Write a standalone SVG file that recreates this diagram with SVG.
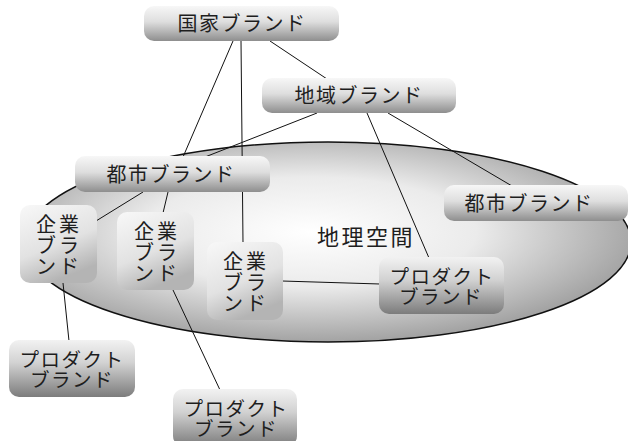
<svg xmlns="http://www.w3.org/2000/svg" width="628" height="441" viewBox="0 0 628 441">
<defs>
<radialGradient id="gSpace" cx="0.47" cy="0.45" r="0.55">
<stop offset="0" stop-color="#ffffff"/>
<stop offset="0.5" stop-color="#ebebeb"/>
<stop offset="1" stop-color="#a3a3a3"/>
</radialGradient>
<linearGradient id="gBar" x1="0" y1="0" x2="0" y2="1">
<stop offset="0" stop-color="#f7f7f7"/>
<stop offset="0.45" stop-color="#dedede"/>
<stop offset="1" stop-color="#8e8e8e"/>
</linearGradient>
<linearGradient id="gCorp" x1="0" y1="0" x2="0.4" y2="1">
<stop offset="0" stop-color="#f8f8f8"/>
<stop offset="0.6" stop-color="#e2e2e2"/>
<stop offset="1" stop-color="#b4b4b4"/>
</linearGradient>
<linearGradient id="gProd" x1="0" y1="0" x2="0" y2="1">
<stop offset="0" stop-color="#f2f2f2"/>
<stop offset="0.4" stop-color="#d2d2d2"/>
<stop offset="1" stop-color="#7c7c7c"/>
</linearGradient>
</defs>
<style>
.bar{fill:url(#gBar);}
.corp{fill:url(#gCorp);}
.prod{fill:url(#gProd);}
text{font-family:"Noto Sans CJK JP","Noto Sans",sans-serif;fill:#1e1e1e;text-anchor:middle;}
.t1{font-size:20px;letter-spacing:1.5px;}
.t2{font-size:20px;letter-spacing:3px;}
.t3{font-size:19.5px;letter-spacing:1.5px;}
.big{font-size:22px;letter-spacing:2.5px;}
.ln line{stroke:#111;stroke-width:1;fill:none;}
</style>
<g id="space">
<ellipse cx="328" cy="242" rx="303" ry="100" fill="url(#gSpace)" stroke="#111" stroke-width="1.5"/>
<text class="big" x="366" y="245">地理空間</text>
</g>
<g id="connectors" class="ln">
<line x1="233" y1="41" x2="183" y2="157"/>
<line x1="241" y1="41" x2="243" y2="243"/>
<line x1="270" y1="41" x2="327" y2="79"/>
<line x1="317" y1="113" x2="205" y2="157"/>
<line x1="367" y1="113" x2="429" y2="258"/>
<line x1="388" y1="113" x2="512" y2="186"/>
<line x1="143" y1="192" x2="96" y2="221"/>
<line x1="168" y1="192" x2="163" y2="213"/>
<line x1="282" y1="281" x2="380" y2="284"/>
<line x1="63" y1="283" x2="69" y2="341"/>
<line x1="173" y1="290" x2="220" y2="390"/>
</g>
<g id="national">
<rect class="bar" x="144" y="6" width="195" height="35" rx="10"/>
<text class="t1" x="242" y="31">国家ブランド</text>
</g>
<g id="regional">
<rect class="bar" x="262" y="78" width="194" height="35" rx="10"/>
<text class="t1" x="359" y="103">地域ブランド</text>
</g>
<g id="city-left">
<rect class="bar" x="75" y="156" width="195" height="36" rx="10"/>
<text class="t1" x="171" y="182">都市ブランド</text>
</g>
<g id="city-right">
<rect class="bar" x="444" y="185" width="184" height="36" rx="10"/>
<text class="t1" x="529" y="211">都市ブランド</text>
</g>
<g id="corp1">
<rect class="corp" x="20" y="205" width="77" height="78" rx="10"/>
<text class="t2" x="59" y="232">企業<tspan x="59" dy="21">ブラ</tspan><tspan x="59" dy="21">ンド</tspan></text>
</g>
<g id="corp2">
<rect class="corp" x="117" y="212" width="77" height="78" rx="10"/>
<text class="t2" x="157" y="239">企業<tspan x="157" dy="21">ブラ</tspan><tspan x="157" dy="21">ンド</tspan></text>
</g>
<g id="corp3">
<rect class="corp" x="207" y="242" width="76" height="78" rx="10"/>
<text class="t2" x="246" y="269">企業<tspan x="246" dy="21">ブラ</tspan><tspan x="246" dy="21">ンド</tspan></text>
</g>
<g id="product-center">
<rect class="prod" x="379" y="257" width="125" height="57" rx="10"/>
<text class="t3" x="442" y="284">プロダクト<tspan x="441" dy="20">ブランド</tspan></text>
</g>
<g id="product-left">
<rect class="prod" x="9" y="340" width="126" height="57" rx="10"/>
<text class="t3" x="72" y="367">プロダクト<tspan x="72" dy="20">ブランド</tspan></text>
</g>
<g id="product-bottom">
<rect class="prod" x="173" y="389" width="124" height="57" rx="10"/>
<text class="t3" x="236" y="416">プロダクト<tspan x="236" dy="20">ブランド</tspan></text>
</g>
</svg>
